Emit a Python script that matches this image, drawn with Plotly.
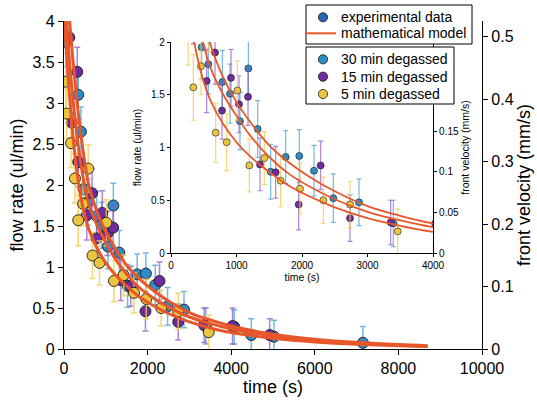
import plotly.graph_objects as go

# ---------------- data ----------------
# 30 min degassed
t30 = [40, 341, 405, 468, 570, 784, 901, 1053, 1181, 1323, 1522, 1751, 1959, 2183, 2478, 2870, 3394, 4071, 4480, 5024, 7150]
q30 = [3.74, 3.10, 2.65, 1.95, 1.79, 1.62, 1.51, 1.25, 1.75, 1.175, 0.77, 0.91, 0.92, 0.78, 0.52, 0.48, 0.28, 0.27, 0.17, 0.15, 0.075]
e30 = [0.3, 0.3, 0.3, 0.3, 0.28, 0.3, 0.28, 0.27, 0.27, 0.27, 0.26, 0.25, 0.25, 0.24, 0.23, 0.22, 0.22, 0.21, 0.2, 0.2, 0.2]
# 15 min degassed
t15 = [126, 183, 317, 341, 545, 672, 779, 916, 1038, 1176, 1359, 1598, 1949, 2285, 2733, 3354, 4032, 4921]
q15 = [3.80, 2.76, 3.38, 2.28, 1.63, 1.90, 1.35, 1.66, 1.41, 1.48, 0.84, 0.765, 0.46, 0.83, 0.33, 0.29, 0.28, 0.17]
e15 = [0.25, 0.3, 0.3, 0.3, 0.3, 0.3, 0.27, 0.27, 0.27, 0.27, 0.25, 0.245, 0.24, 0.23, 0.22, 0.21, 0.22, 0.2]
# 5 min degassed
t5 = [40, 63, 167, 262, 341, 458, 579, 682, 850, 1013, 1196, 1425, 1674, 1969, 2326, 2733, 3461]
q5 = [3.26, 2.87, 2.51, 2.08, 1.57, 1.77, 2.20, 1.14, 1.05, 1.54, 0.83, 0.90, 0.685, 0.61, 0.50, 0.46, 0.205]
e5 = [0.35, 0.3, 0.3, 0.3, 0.31, 0.27, 0.29, 0.28, 0.27, 0.28, 0.25, 0.25, 0.245, 0.24, 0.22, 0.22, 0.21]

# mathematical model curves
t_model = [0, 100, 200, 300, 400, 500, 600, 800, 1000, 1200, 1500, 1800, 2100, 2500, 3000, 3500, 4000, 5000, 6000, 7000, 8000, 8700]
q_model_30 = [4.92, 4.2, 3.6, 3.07, 2.63, 2.27, 1.98, 1.66, 1.43, 1.25, 1.02, 0.858, 0.728, 0.585, 0.445, 0.353, 0.28, 0.18, 0.12, 0.082, 0.054, 0.04]
q_model_15 = [4.43, 3.7, 3.12, 2.65, 2.27, 1.97, 1.76, 1.5, 1.3, 1.12, 0.91, 0.75, 0.635, 0.51, 0.39, 0.309, 0.245, 0.16, 0.105, 0.072, 0.047, 0.035]
q_model_5 = [4.1, 3.3, 2.68, 2.2, 1.86, 1.62, 1.45, 1.22, 1.05, 0.92, 0.767, 0.637, 0.54, 0.433, 0.33, 0.257, 0.2, 0.131, 0.086, 0.059, 0.039, 0.029]

series_names = ["30 min degassed", "15 min degassed", "5 min degassed"]
legend1_names = ["experimental data", "mathematical model"]

main_x_ticks = [0, 2000, 4000, 6000, 8000, 10000]
main_x_labels = ["0", "2000", "4000", "6000", "8000", "10000"]
inset_v_ticks = [0, 0.05, 0.1, 0.15]
inset_v_labels = ["0", "0.05", "0.1", "0.15"]

# ---------------- styles ----------------
FONT = "Liberation Sans, Arial, Helvetica, sans-serif"
C_BLUE = "#2E8BC6"
C_PURPLE = "#6E2C9E"
C_YELLOW = "#EAC53F"
E_BLUE = "rgba(70,160,215,0.75)"
E_PURPLE = "rgba(140,80,190,0.7)"
E_YELLOW = "rgba(240,205,80,0.8)"
C_ORANGE = "#E8572A"
C_LEG_BLUE = "#2866B0"

W, H = 537, 405
def px_x(p):
    return p / W
def px_y(p):
    return 1 - p / H

fig = go.Figure()

data = [(t30, q30, e30, C_BLUE, E_BLUE),
        (t15, q15, e15, C_PURPLE, E_PURPLE),
        (t5, q5, e5, C_YELLOW, E_YELLOW)]

# main plot data
for (t, q, e, c, ec), nm in zip(data, series_names):
    fig.add_trace(go.Scatter(
        x=t, y=q, mode="markers", xaxis="x", yaxis="y", showlegend=False, name=nm,
        marker=dict(size=11, color=c, line=dict(color="#1a1a1a", width=0.9)),
        error_y=dict(type="data", array=e, color=ec, thickness=1.5, width=3)))

for qm in (q_model_30, q_model_15, q_model_5):
    fig.add_trace(go.Scatter(
        x=t_model, y=qm, mode="lines", xaxis="x", yaxis="y", showlegend=False,
        line=dict(color=C_ORANGE, width=3, shape="spline", smoothing=1.0)))

# dummy for right axis of main plot
fig.add_trace(go.Scatter(x=[None], y=[None], xaxis="x", yaxis="y2", showlegend=False, hoverinfo="skip"))

# inset data
for (t, q, e, c, ec), nm in zip(data, series_names):
    fig.add_trace(go.Scatter(
        x=t, y=q, mode="markers", xaxis="x2", yaxis="y3", showlegend=False, name=nm,
        marker=dict(size=7, color=c, line=dict(color="#1a1a1a", width=0.6)),
        error_y=dict(type="data", array=e, color=ec, thickness=1.2, width=2.5)))

for qm in (q_model_30, q_model_15, q_model_5):
    fig.add_trace(go.Scatter(
        x=t_model, y=qm, mode="lines", xaxis="x2", yaxis="y3", showlegend=False,
        line=dict(color=C_ORANGE, width=1.8, shape="spline", smoothing=1.0)))

fig.add_trace(go.Scatter(x=[None], y=[None], xaxis="x2", yaxis="y4", showlegend=False, hoverinfo="skip"))

# ---------------- hand-drawn legends (paper coordinates) ----------------
shapes = []
annotations = []

def rect(x0, y0, x1, y1):
    shapes.append(dict(type="rect", xref="paper", yref="paper",
                       x0=px_x(x0), x1=px_x(x1), y0=px_y(y1), y1=px_y(y0),
                       fillcolor="white", line=dict(color="black", width=1), layer="above"))

def dot(cx, cy, r, color):
    shapes.append(dict(type="circle", xref="paper", yref="paper",
                       x0=px_x(cx - r), x1=px_x(cx + r), y0=px_y(cy + r), y1=px_y(cy - r),
                       fillcolor=color, line=dict(color="#1a1a1a", width=0.8), layer="above"))

def label(x, y, text):
    annotations.append(dict(xref="paper", yref="paper", x=px_x(x), y=px_y(y), text=text,
                            showarrow=False, xanchor="left", yanchor="middle",
                            font=dict(size=14, family=FONT, color="black")))

rect(306, 5, 472, 44)
dot(323, 17.3, 4.6, C_LEG_BLUE)
label(339, 17.3, legend1_names[0])
shapes.append(dict(type="line", xref="paper", yref="paper", x0=px_x(306), x1=px_x(336),
                   y0=px_y(33.3), y1=px_y(33.3), line=dict(color=C_ORANGE, width=2), layer="above"))
label(339, 33.3, legend1_names[1])

rect(306, 47, 454, 104)
for yy, c, nm in zip([59.3, 76.7, 94], [C_BLUE, C_PURPLE, C_YELLOW], series_names):
    dot(323, yy, 4.6, c)
    label(339, yy, nm)

axis_common = dict(showline=True, linecolor="black", linewidth=1.2, ticks="outside",
                   tickcolor="black", showgrid=False, zeroline=False, automargin=False)

fig.update_layout(
    width=W, height=H,
    margin=dict(l=0, r=0, t=0, b=0),
    paper_bgcolor="white", plot_bgcolor="white",
    font=dict(family=FONT, color="black"),
    showlegend=False,
    shapes=shapes, annotations=annotations,
    xaxis=dict(domain=[px_x(64), px_x(482)], range=[0, 10000], tickvals=main_x_ticks, ticktext=main_x_labels,
               anchor="y", ticklen=5, tickfont=dict(size=16),
               title=dict(text="time (s)", font=dict(size=18), standoff=4), **axis_common),
    yaxis=dict(domain=[px_y(349), px_y(21)], range=[0, 4], dtick=0.5, anchor="x", ticklen=5,
               tickfont=dict(size=16), title=dict(text="flow rate (ul/min)", font=dict(size=18), standoff=4),
               **axis_common),
    yaxis2=dict(overlaying="y", side="right", anchor="x", range=[0, 0.525], dtick=0.1, ticklen=5,
                tickfont=dict(size=16), title=dict(text="front velocity (mm/s)", font=dict(size=18), standoff=3),
                **axis_common),
    xaxis2=dict(domain=[px_x(171), px_x(433)], range=[0, 4000], dtick=1000, anchor="y3", ticklen=3,
                tickfont=dict(size=10), title=dict(text="time (s)", font=dict(size=10.5), standoff=2),
                **axis_common),
    yaxis3=dict(domain=[px_y(253), px_y(42)], range=[0, 2], dtick=0.5, anchor="x2", ticklen=3,
                tickfont=dict(size=10), title=dict(text="flow rate (ul/min)", font=dict(size=10.5), standoff=7),
                **axis_common),
    yaxis4=dict(overlaying="y3", side="right", anchor="x2", range=[0, 0.26],
                tickvals=inset_v_ticks, ticktext=inset_v_labels,
                ticklen=3, tickfont=dict(size=10),
                title=dict(text="front velocity (mm/s)", font=dict(size=10.5), standoff=3), **axis_common),
)

fig.write_html("out.html", config={"displayModeBar": False},
               post_script="document.body.style.margin='0px';")
